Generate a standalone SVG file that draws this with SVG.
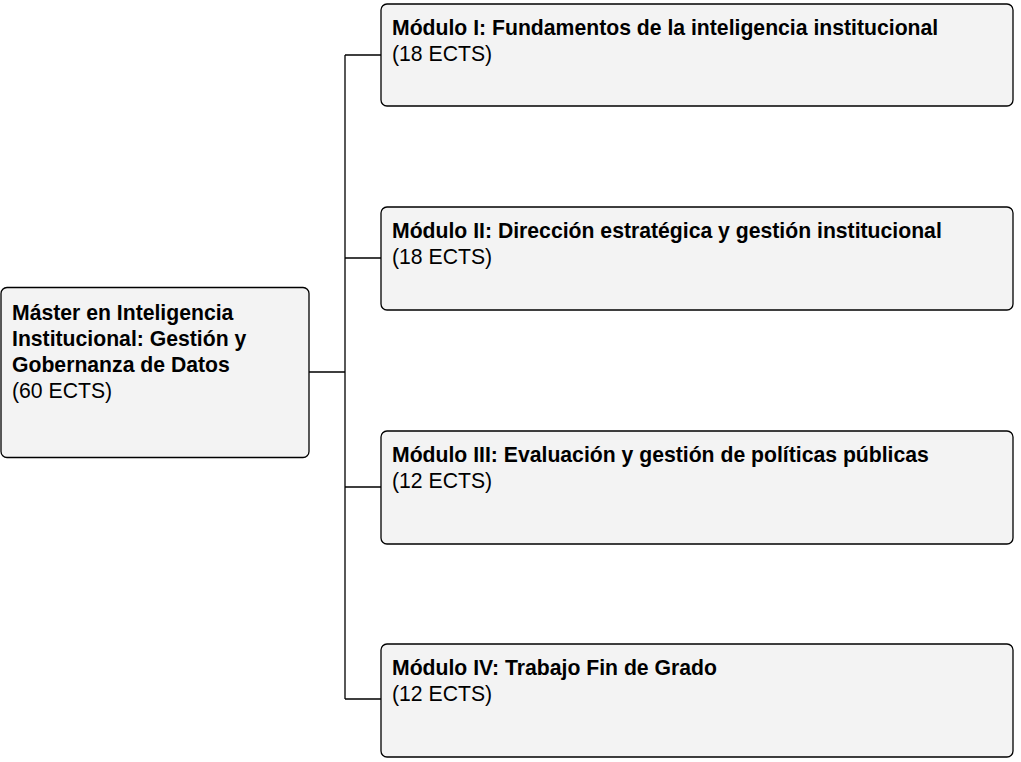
<svg xmlns="http://www.w3.org/2000/svg" width="1021" height="762" viewBox="0 0 1021 762">
<style>
.box{fill:#f3f3f3;stroke:#000;stroke-width:1.3}
.t{font-family:"Liberation Sans",Arial,sans-serif;font-size:21.2px;fill:#000}
.b{font-weight:bold}
.c{fill:none;stroke:#000;stroke-width:1.3}
</style>
<rect width="1021" height="762" fill="#fff"/>
<g id="connectors">
<path class="c" d="M309,372 H345 M345,55 V699 M345,55 H381 M345,258 H381 M345,487 H381 M345,699 H381"/>
</g>
<g id="master">
<rect class="box" x="1" y="287.5" width="308" height="170" rx="6"/>
<text class="t b" x="12" y="320">Máster en Inteligencia</text>
<text class="t b" x="12" y="346">Institucional: Gestión y</text>
<text class="t b" x="12" y="372">Gobernanza de Datos</text>
<text class="t" x="12" y="398">(60 ECTS)</text>
</g>
<g id="mod1">
<rect class="box" x="381" y="4" width="632" height="102" rx="6"/>
<text class="t b" x="392" y="35">Módulo I: Fundamentos de la inteligencia institucional</text>
<text class="t" x="392" y="61">(18 ECTS)</text>
</g>
<g id="mod2">
<rect class="box" x="381" y="207" width="632" height="103" rx="6"/>
<text class="t b" x="392" y="238">Módulo II: Dirección estratégica y gestión institucional</text>
<text class="t" x="392" y="264">(18 ECTS)</text>
</g>
<g id="mod3">
<rect class="box" x="381" y="431" width="632" height="113" rx="6"/>
<text class="t b" x="392" y="462">Módulo III: Evaluación y gestión de políticas públicas</text>
<text class="t" x="392" y="488">(12 ECTS)</text>
</g>
<g id="mod4">
<rect class="box" x="381" y="644" width="632" height="113" rx="6"/>
<text class="t b" x="392" y="675">Módulo IV: Trabajo Fin de Grado</text>
<text class="t" x="392" y="701">(12 ECTS)</text>
</g>
</svg>
